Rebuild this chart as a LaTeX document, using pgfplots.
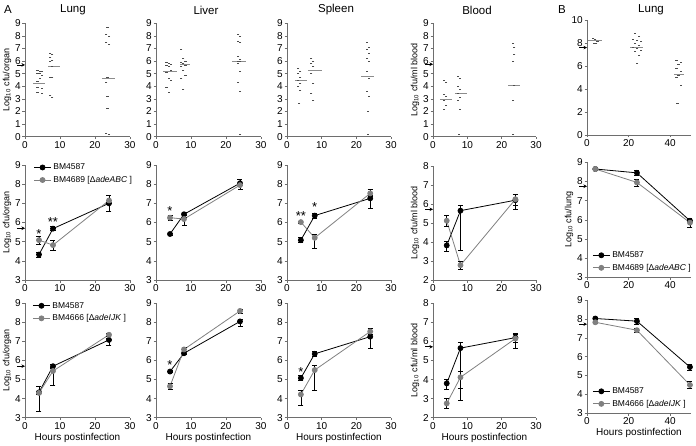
\documentclass[border=0pt]{standalone}
\usepackage{pgfplots}
\pgfplotsset{compat=1.18}
\usetikzlibrary{arrows.meta}
\usepackage{fontspec}
\setmainfont{Liberation Sans}
\definecolor{mgray}{RGB}{128,128,128}
\definecolor{lgray}{RGB}{140,140,140}
\definecolor{axc}{RGB}{110,110,110}
\pgfplotsset{
  base/.style={
    scale only axis, anchor=south west, clip=false,
    axis x line*=bottom, axis y line*=left,
    tick align=outside, major tick length=2.5pt,
    axis line style={axc, line width=0.5pt},
    major tick style={axc, line width=0.5pt},
    tick label style={font=\fontsize{10}{11}\selectfont},
    xticklabel style={inner sep=2pt},
    yticklabel style={inner sep=1.5pt},
    /pgf/number format/assume math mode=true,
    ylabel style={font=\fontsize{9}{10}\selectfont, yshift=-1pt},
    xlabel style={font=\fontsize{10}{11}\selectfont, yshift=2pt},
    xmin=0, xmax=30, xtick={0,10,20,30},
  },
  ra/.style={base, ymin=0, ymax=9, ytick={0,...,9}},
  rl/.style={base, ymin=3, ymax=9, ytick={3,...,9}},
  rb/.style={base, ymin=2, ymax=8, ytick={2,...,8}},
  bx/.style={xmax=50, xtick={0,20,40}},
  dash/.style={only marks, mark=-, mark size=1.1pt, black!70, mark options={line width=0.7pt}},
  med/.style={lgray, line width=0.7pt, mark=none},
  blk/.style={black, line width=0.8pt, mark=*, mark size=2.5pt, mark options={fill=black},
    error bars/.cd, y dir=both, y explicit,
    error bar style={black, line width=0.6pt},
    error mark options={rotate=90, mark size=2.5pt, line width=0.6pt, black}},
  gry/.style={mgray, line width=0.8pt, mark=*, mark size=2.5pt, mark options={fill=mgray},
    error bars/.cd, y dir=both, y explicit,
    error bar style={black, line width=0.6pt},
    error mark options={rotate=90, mark size=2.5pt, line width=0.6pt, black}},
  leg/.style={legend style={draw=none, fill=none, font=\fontsize{8.5}{9.5}\selectfont, inner sep=0pt, row sep=1pt, cells={anchor=west}}},
}
\newcommand{\larr}[1]{\draw[-{Stealth[length=3.5pt,width=3.5pt]}, line width=0.6pt] ([xshift=-8pt]axis cs:0,#1) -- (axis cs:0,#1);}
\newcommand{\sig}[3]{\node[font=\fontsize{13}{14}\selectfont] at (axis cs:#1,#2) {#3};}
\begin{document}
\begin{tikzpicture}
\useasboundingbox (0,0) rectangle (696pt,445pt);
% labels
\node[font=\fontsize{11.5}{12}\selectfont] at (8pt,435pt) {A};
\node[font=\fontsize{11.5}{12}\selectfont] at (562pt,435pt) {B};
\node[font=\fontsize{11.5}{12}\selectfont] at (73pt,435pt) {Lung};
\node[font=\fontsize{11.5}{12}\selectfont] at (206pt,435pt) {Liver};
\node[font=\fontsize{11.5}{12}\selectfont] at (336pt,435pt) {Spleen};
\node[font=\fontsize{11.5}{12}\selectfont] at (477pt,435pt) {Blood};
\node[font=\fontsize{11.5}{12}\selectfont] at (651pt,435pt) {Lung};

%================ ROW 1 =================
\begin{axis}[ra, at={(25pt,308.3pt)}, width=105pt, height=113.4pt, ylabel={Log\textsubscript{10} cfu/organ}]
\addplot[dash] coordinates {(3.6,5.3) (4.2,5.2) (4.8,5.15) (3.6,5.05) (4.2,5.0) (4.8,4.9) (4.2,4.6) (3.6,4.4) (3.6,3.9) (4.8,3.85) (3.6,3.5) (4.8,3.45)};
\addplot[dash] coordinates {(7.2,6.6) (7.8,6.5) (7.2,6.3) (7.8,6.05) (7.2,5.95) (7.8,5.6) (7.2,4.75) (7.8,4.7) (7.2,3.25) (7.8,3.15)};
\addplot[dash] coordinates {(23.6,8.7) (23.2,8.1) (24,8.0) (23.2,7.45) (24,7.35) (23.6,4.75) (23.2,4.3) (23.6,3.2) (23.6,2.25) (23.2,0.25) (24,0.2)};
\addplot[med] coordinates {(2.3,4.25) (5.7,4.25)};
\addplot[med] coordinates {(6.6,5.55) (10,5.55)};
\addplot[med] coordinates {(22,4.63) (25.7,4.63)};
\larr{5.7}
\end{axis}

\begin{axis}[ra, at={(156pt,308.3pt)}, width=105pt, height=113.4pt]
\addplot[dash] coordinates {(3,5.9) (3.6,5.8) (4.2,5.75) (3,5.65) (3.6,5.55) (4.2,5.3) (3,5.1) (3.6,4.6) (4.2,4.5) (3,3.9) (3.6,3.5)};
\addplot[dash] coordinates {(7.2,6.9) (7.8,6.2) (8.4,5.95) (7.2,5.9) (7.8,5.8) (8.4,5.7) (7.2,5.6) (7.8,5.3) (8.4,4.9) (7.2,4.6) (7.8,3.75)};
\addplot[dash] coordinates {(23.4,8.1) (24,8.0) (23.4,7.6) (24,7.45) (23.4,6.35) (24,6.1) (23.4,6.0) (24,5.95) (23.4,5.8) (24,5.15) (23.4,4.35) (24,3.57) (24,0.15)};
\addplot[med] coordinates {(2,5.15) (6,5.15)};
\addplot[med] coordinates {(6.9,5.75) (9.8,5.75)};
\addplot[med, line width=1.3pt] coordinates {(21.7,5.95) (25.7,5.95)};
\end{axis}

\begin{axis}[ra, at={(287pt,308.3pt)}, width=104pt, height=113.4pt]
\addplot[dash] coordinates {(3.2,5.4) (3.8,5.15) (3.2,5.0) (3.8,4.7) (3.2,4.5) (3.8,4.25) (3.2,3.97) (3.8,3.65) (3.5,2.65)};
\addplot[dash] coordinates {(7,6.2) (7.6,6.0) (7,5.8) (7.6,5.55) (7,5.0) (7.6,4.25) (7,3.45) (7.6,2.9)};
\addplot[dash] coordinates {(23,7.5) (23.6,7.1) (23,6.9) (23.6,6.6) (23,6.2) (23.6,6.0) (23,5.15) (23.6,4.6) (23,3.57) (23.6,3.17) (23.3,2.0) (23.3,0.2)};
\addplot[med] coordinates {(2.3,4.5) (5.7,4.5)};
\addplot[med] coordinates {(6,5.24) (10,5.24)};
\addplot[med] coordinates {(21.4,4.8) (25.1,4.8)};
\end{axis}

\begin{axis}[ra, at={(433pt,308.3pt)}, width=103pt, height=113.4pt, ylabel={Log\textsubscript{10} cfu/ml blood}]
\addplot[dash] coordinates {(3.2,4.5) (3.8,4.3) (3.2,3.35) (3.8,3.2) (3.2,2.9) (3.8,2.45) (3.2,2.2)};
\addplot[dash] coordinates {(7.2,4.8) (7.8,4.6) (7.2,4.0) (7.8,3.75) (7.2,3.45) (7.8,3.1) (7.2,2.9) (7.8,2.2) (7.5,0.15)};
\addplot[dash] coordinates {(23.3,7.4) (23.7,7.1) (23.7,6.5) (23.3,5.95) (23.7,4.1) (23.3,2.85) (23.3,0.15)};
\addplot[med] coordinates {(2,2.96) (5.5,2.96)};
\addplot[med] coordinates {(6.4,3.44) (9.9,3.44)};
\addplot[med] coordinates {(21.9,4.1) (25.4,4.1)};
\larr{5.75}
\end{axis}

\begin{axis}[base, bx, ymin=0, ymax=10, ytick={0,2,...,10}, at={(587pt,310pt)}, width=104pt, height=115pt]
\addplot[dash] coordinates {(3,8.4) (4,8.3) (5,8.15) (3.5,8.0) (4.5,7.95)};
\addplot[dash] coordinates {(23,8.85) (25,8.55) (22,8.3) (24,8.2) (26,8.1) (23,7.95) (25,7.8) (22,7.6) (24,7.5) (26,7.4) (23,7.25) (25,6.9) (24,6.2)};
\addplot[dash] coordinates {(43,6.5) (45,6.35) (44,6.1) (43,5.8) (45,5.5) (44,5.2) (43,5.0) (45,4.35) (43.5,2.75)};
\addplot[med] coordinates {(0.7,8.2) (7.4,8.2)};
\addplot[med] coordinates {(20.7,7.6) (27,7.6)};
\addplot[med] coordinates {(42,5.25) (46.6,5.25)};
\larr{7.6}
\end{axis}

%================ ROW 2 =================
\begin{axis}[rl, leg, at={(25pt,165pt)}, width=105pt, height=115pt, ylabel={Log\textsubscript{10} cfu/organ},
  legend style={at={(0.08,1.03)}, anchor=north west}]
\addplot[blk] coordinates {(4,4.33) += (0,0.13) -= (0,0.13) (8,5.68) += (0,0.1) -= (0,0.1) (24,7.0) += (0,0.15) -= (0,0.4)};
\addlegendentry{BM4587}
\addplot[gry] coordinates {(4,5.08) += (0,0.2) -= (0,0.2) (8,4.82) += (0,0.25) -= (0,0.25) (24,7.15) += (0,0.25) -= (0,0.1)};
\addlegendentry{BM4689 [Δ\textit{adeABC} ]}
\sig{4}{5.4}{*}
\sig{8}{6.0}{**}
\larr{5.7}
\end{axis}

\begin{axis}[rl, at={(156pt,165pt)}, width=105pt, height=115pt]
\addplot[blk] coordinates {(4,5.4) += (0,0.05) -= (0,0.05) (8,6.43) += (0,0.08) -= (0,0.08) (24,8.05) += (0,0.2) -= (0,0.1)};
\addplot[gry] coordinates {(4,6.25) += (0,0.12) -= (0,0.12) (8,6.18) += (0,0.1) -= (0,0.35) (24,7.95) += (0,0.1) -= (0,0.2)};
\sig{4}{6.6}{*}
\end{axis}

\begin{axis}[rl, at={(287pt,165pt)}, width=104pt, height=115pt]
\addplot[blk] coordinates {(4,5.08) += (0,0.13) -= (0,0.13) (8,6.36) += (0,0.12) -= (0,0.12) (24,7.26) += (0,0.1) -= (0,0.52)};
\addplot[gry] coordinates {(4,6.02) += (0,0.05) -= (0,0.05) (8,5.2) += (0,0.2) -= (0,0.55) (24,7.52) += (0,0.22) -= (0,0.1)};
\sig{4}{6.35}{**}
\sig{8}{6.8}{*}
\end{axis}

\begin{axis}[rb, at={(433pt,165pt)}, width=103pt, height=114pt, ylabel={Log\textsubscript{10} cfu/ml blood}]
\addplot[blk] coordinates {(4,3.82) += (0,0.2) -= (0,0.3) (8,5.65) += (0,0.3) -= (0,2.1) (24,6.2) += (0,0.3) -= (0,0.5)};
\addplot[gry] coordinates {(4,5.12) += (0,0.3) -= (0,0.3) (8,2.78) += (0,0.2) -= (0,0.2) (24,6.25) += (0,0.25) -= (0,0.3)};
\larr{5.72}
\end{axis}

\begin{axis}[rl, bx, leg, at={(587pt,167.7pt)}, width=104pt, height=115pt, ylabel={Log\textsubscript{10} cfu/lung},
  legend style={at={(0.05,0.03)}, anchor=south west}]
\addplot[blk] coordinates {(4,8.65) += (0,0.05) -= (0,0.05) (24,8.45) += (0,0.15) -= (0,0.15) (49.5,5.95) += (0,0.1) -= (0,0.1)};
\addlegendentry{BM4587}
\addplot[gry] coordinates {(4,8.65) += (0,0.08) -= (0,0.08) (24,7.95) += (0,0.18) -= (0,0.18) (49.5,5.85) += (0,0.25) -= (0,0.25)};
\addlegendentry{BM4689 [Δ\textit{adeABC} ]}
\larr{7.75}
\end{axis}

%================ ROW 3 =================
\begin{axis}[rl, leg, at={(25pt,27.3pt)}, width=105pt, height=114.4pt, ylabel={Log\textsubscript{10} cfu/organ}, xlabel={Hours postinfection},
  legend style={at={(0.07,1.03)}, anchor=north west}]
\addplot[blk] coordinates {(4,4.33) += (0,0.3) -= (0,0.1) (8,5.7) += (0,0.08) -= (0,0.08) (24,7.08) += (0,0.1) -= (0,0.3)};
\addlegendentry{BM4587}
\addplot[gry] coordinates {(4,4.3) += (0,0.1) -= (0,0.95) (8,5.45) += (0,0.15) -= (0,0.77) (24,7.35) += (0,0.08) -= (0,0.08)};
\addlegendentry{BM4666 [Δ\textit{adeIJK} ]}
\larr{5.7}
\end{axis}

\begin{axis}[rl, at={(156pt,27.3pt)}, width=105pt, height=114.4pt, xlabel={Hours postinfection}]
\addplot[blk] coordinates {(4,5.42) += (0,0.05) -= (0,0.05) (8,6.38) += (0,0.08) -= (0,0.08) (24,8.05) += (0,0.1) -= (0,0.25)};
\addplot[gry] coordinates {(4,4.65) += (0,0.18) -= (0,0.18) (8,6.58) += (0,0.1) -= (0,0.1) (24,8.6) += (0,0.1) -= (0,0.1)};
\sig{4}{5.75}{*}
\end{axis}

\begin{axis}[rl, at={(287pt,27.3pt)}, width=104pt, height=114.4pt, xlabel={Hours postinfection}]
\addplot[blk] coordinates {(4,5.08) += (0,0.12) -= (0,0.12) (8,6.35) += (0,0.12) -= (0,0.12) (24,7.25) += (0,0.1) -= (0,0.6)};
\addplot[gry] coordinates {(4,4.22) += (0,0.2) -= (0,0.55) (8,5.5) += (0,0.25) -= (0,1.05) (24,7.52) += (0,0.15) -= (0,0.15)};
\sig{4}{5.4}{*}
\end{axis}

\begin{axis}[rb, at={(433pt,27.3pt)}, width=103pt, height=114.4pt, ylabel={Log\textsubscript{10} cfu/ml blood}, xlabel={Hours postinfection}]
\addplot[blk] coordinates {(4,3.8) += (0,0.2) -= (0,0.3) (8,5.65) += (0,0.3) -= (0,2.75) (24,6.2) += (0,0.25) -= (0,0.25)};
\addplot[gry] coordinates {(4,2.75) += (0,0.25) -= (0,0.25) (8,4.12) += (0,0.3) -= (0,0.6) (24,6.15) += (0,0.2) -= (0,0.5)};
\larr{5.72}
\end{axis}

\begin{axis}[rl, bx, leg, at={(587pt,31.7pt)}, width=104pt, height=113.3pt, xlabel={Hours postinfection},
  legend style={at={(0.05,0.03)}, anchor=south west}]
\addplot[blk] coordinates {(4,8.02) += (0,0.05) -= (0,0.05) (24,7.88) += (0,0.15) -= (0,0.15) (49.5,5.45) += (0,0.15) -= (0,0.15)};
\addlegendentry{BM4587}
\addplot[gry] coordinates {(4,7.82) += (0,0.05) -= (0,0.05) (24,7.4) += (0,0.12) -= (0,0.12) (49.5,4.5) += (0,0.2) -= (0,0.2)};
\addlegendentry{BM4666 [Δ\textit{adeIJK} ]}
\larr{7.72}
\end{axis}
\end{tikzpicture}
\end{document}
